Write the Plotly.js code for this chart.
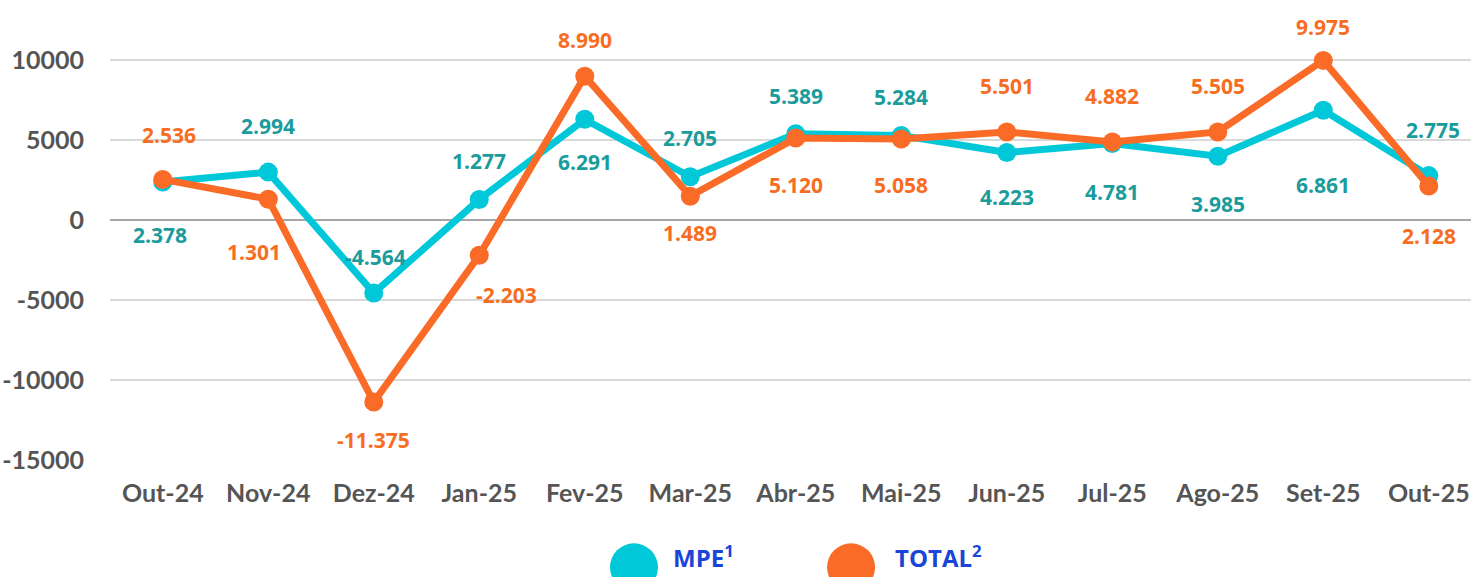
<!DOCTYPE html>
<html>
<head>
<meta charset="utf-8">
<script src="https://cdn.plot.ly/plotly-3.0.1.min.js"></script>
<style>html,body{margin:0;padding:0;background:#fff;}#chart{width:1471px;height:577px;}</style>
</head>
<body>
<div id="chart"></div>
<script>
// ---- data ----
const months = ['Out-24','Nov-24','Dez-24','Jan-25','Fev-25','Mar-25','Abr-25','Mai-25','Jun-25','Jul-25','Ago-25','Set-25','Out-25'];
const mpe = [2378, 2994, -4564, 1277, 6291, 2705, 5389, 5284, 4223, 4781, 3985, 6861, 2775];
const total = [2536, 1301, -11375, -2203, 8990, 1489, 5120, 5058, 5501, 4882, 5505, 9975, 2128];
const seriesNames = ['MPE<sup>1</sup>', 'TOTAL<sup>2</sup>'];

// ---- label placement (layout config, px) ----
const mpeLabelShift = [[-3,-53],[0,46],[2,36],[0,39],[0,-43],[0,39],[0,38],[0,38],[0,-45],[0,-48],[0,-48],[0,-75],[4,46]];
const totalLabelShift = [[6,44],[-14,-53],[0,-38],[27,-40],[0,36],[0,-37],[0,-47],[0,-46],[0,46],[0,46],[0,46],[0,33],[0,-50]];

const teal = '#00c8d8', tealText = '#1b9c9c';
const orange = '#f96b26', orangeText = '#f76d22';

function fmt(v){
  const s = Math.abs(v).toString();
  const parts = [];
  for (let i = s.length; i > 0; i -= 3) parts.unshift(s.slice(Math.max(0,i-3), i));
  return (v < 0 ? '-' : '') + parts.join('.');
}

const traces = [
  {x: months, y: mpe, name: seriesNames[0], type: 'scatter', mode: 'lines+markers',
   line: {color: teal, width: 7}, marker: {color: teal, size: 19}, hoverinfo: 'skip'},
  {x: months, y: total, name: seriesNames[1], type: 'scatter', mode: 'lines+markers',
   line: {color: orange, width: 7}, marker: {color: orange, size: 19}, hoverinfo: 'skip'}
];

const annotations = [];
const labelFont = (c) => ({family: 'Open Sans, sans-serif', size: 21, color: c, weight: 700});
months.forEach((m, i) => {
  annotations.push({x: m, y: mpe[i], xref: 'x', yref: 'y', text: fmt(mpe[i]), showarrow: false,
    xshift: mpeLabelShift[i][0], yshift: mpeLabelShift[i][1], font: labelFont(tealText)});
  annotations.push({x: m, y: total[i], xref: 'x', yref: 'y', text: fmt(total[i]), showarrow: false,
    xshift: totalLabelShift[i][0], yshift: totalLabelShift[i][1], font: labelFont(orangeText)});
});

// custom legend
const legendFont = {family: 'Open Sans, sans-serif', size: 24, color: '#1a45d8', weight: 700};
const legY = -0.245;
const legTextY = -0.2648;
annotations.push({xref: 'paper', yref: 'paper', x: 0.412, y: legTextY, text: '<b>' + seriesNames[0] + '</b>', showarrow: false, xanchor: 'left', yanchor: 'bottom', font: legendFont});
annotations.push({xref: 'paper', yref: 'paper', x: 0.5755, y: legTextY, text: '<b>' + seriesNames[1] + '</b>', showarrow: false, xanchor: 'left', yanchor: 'bottom', font: legendFont});

const shapes = [
  {type: 'circle', xref: 'paper', yref: 'paper', xsizemode: 'pixel', ysizemode: 'pixel',
   xanchor: 0.385, yanchor: legY, x0: -24, x1: 24, y0: -24, y1: 24, fillcolor: teal, line: {width: 0}},
  {type: 'circle', xref: 'paper', yref: 'paper', xsizemode: 'pixel', ysizemode: 'pixel',
   xanchor: 0.5445, yanchor: legY, x0: -24, x1: 24, y0: -24, y1: 24, fillcolor: orange, line: {width: 0}}
];

const axisFont = {family: 'Lato, sans-serif', size: 25, color: '#555555', weight: 700};
const layout = {
  width: 1471, height: 577,
  margin: {l: 110, r: 0, t: 22, b: 117},
  paper_bgcolor: '#fff', plot_bgcolor: '#fff',
  showlegend: false,
  xaxis: {type: 'category', range: [-0.5, 12.4], showgrid: false, zeroline: false, showline: false,
    ticks: 'outside', ticklen: 11, tickcolor: 'rgba(0,0,0,0)', tickfont: axisFont},
  yaxis: {range: [-15000, 12375], tickvals: [-15000, -10000, -5000, 0, 5000, 10000],
    ticktext: ['-15000','-10000','-5000','0','5000','10000'],
    showgrid: true, gridcolor: '#d9d9d9', gridwidth: 2,
    zeroline: true, zerolinecolor: '#a6a6a6', zerolinewidth: 2, showline: false,
    ticks: 'outside', ticklen: 20, tickcolor: 'rgba(0,0,0,0)', tickfont: axisFont},
  annotations: annotations,
  shapes: shapes
};

Plotly.newPlot('chart', traces, layout, {displayModeBar: false, staticPlot: true});
</script>
</body>
</html>
